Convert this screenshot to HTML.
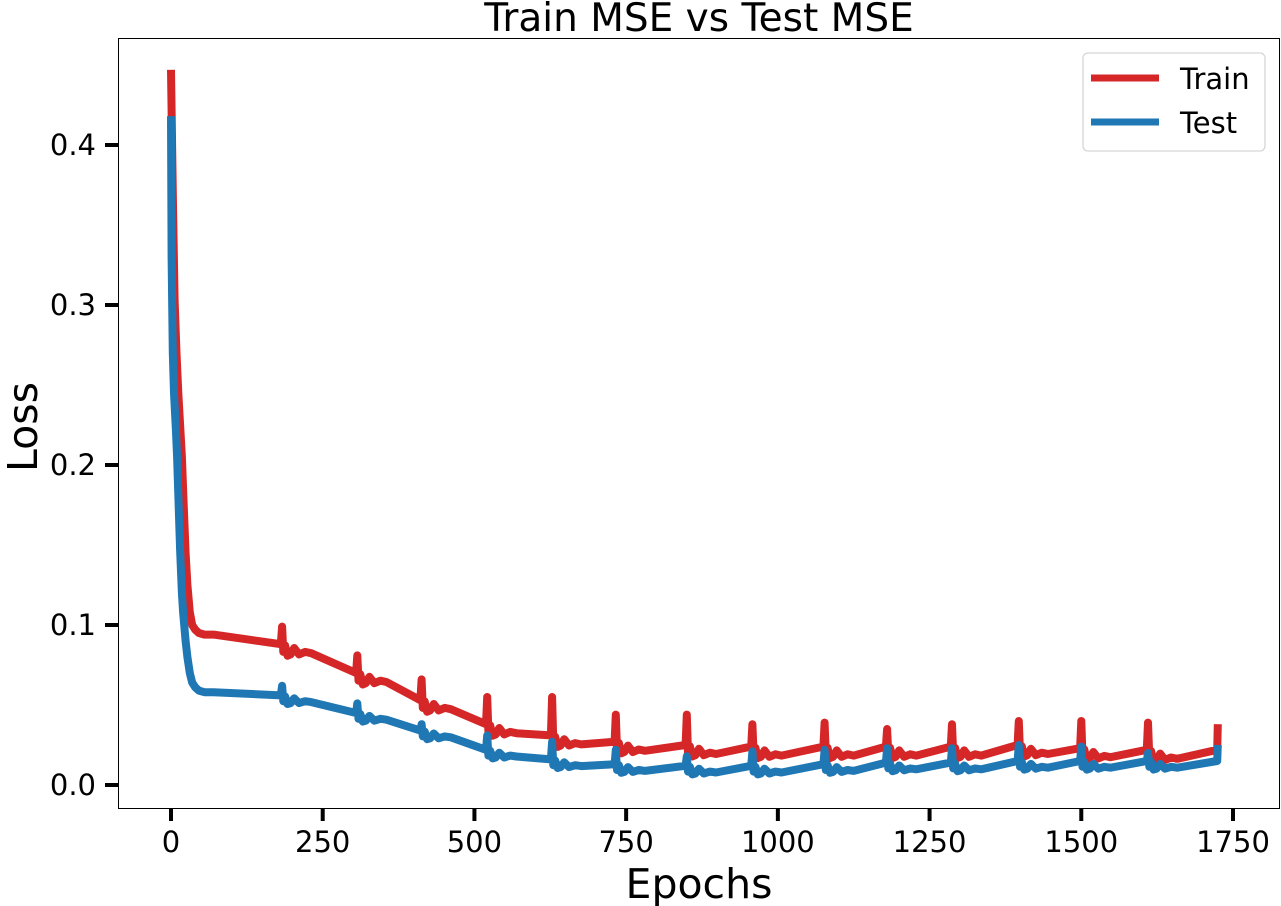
<!DOCTYPE html>
<html><head><meta charset="utf-8"><style>
html,body{margin:0;padding:0;background:#fff;width:1281px;height:906px;overflow:hidden}
svg text{font-family:"DejaVu Sans","Liberation Sans",sans-serif;fill:#000}
</style></head><body>
<svg id="chart" width="1281" height="906" viewBox="0 0 1281 906" xmlns="http://www.w3.org/2000/svg">
<text x="699" y="31" font-size="39" text-anchor="middle">Train MSE vs Test MSE</text>
<rect x="118.5" y="38.5" width="1161" height="770" fill="none" stroke="#000" stroke-width="1"/>
<g id="xticks"></g>
<g id="yticks"></g>
<g id="series"></g>
<text x="699" y="898" font-size="41" text-anchor="middle">Epochs</text>
<text transform="translate(37,427) rotate(-90)" font-size="41" text-anchor="middle">Loss</text>
<g>
<rect x="1083" y="53" width="182" height="98" rx="5" fill="#fff" stroke="#d6d6d6" stroke-width="1.3"/>
<line x1="1091" y1="78" x2="1159" y2="78" stroke="#d62728" stroke-width="7"/>
<text x="1180" y="89" font-size="29">Train</text>
<line x1="1091" y1="122" x2="1159" y2="122" stroke="#1f77b4" stroke-width="7"/>
<text x="1180" y="133" font-size="29">Test</text>
</g>
</svg>
<script>
const xTicks=[0,250,500,750,1000,1250,1500,1750];
const yTicks=[0.0,0.1,0.2,0.3,0.4];
const yTickLabels=["0.0","0.1","0.2","0.3","0.4"];
const trainEarlyEpochs=[0,3,6,9,12,15,18,21,24,27,31,35,40,46,55,70];
const trainEarly=[0.447,0.37,0.303,0.27,0.245,0.225,0.205,0.175,0.145,0.125,0.108,0.100,0.097,0.095,0.094,0.094];
const testEarlyEpochs=[0,1,3,5,8,10,13,15,18,20,24,27,31,35,40,46,55,70];
const testEarly=[0.418,0.33,0.27,0.245,0.222,0.205,0.17,0.147,0.12,0.108,0.09,0.08,0.07,0.064,0.061,0.059,0.058,0.058];
const spikeEpochs=[183,307,413,521,628,733,850,958,1077,1180,1287,1397,1500,1610];
const trainBase=[0.088,0.070,0.053,0.038,0.031,0.027,0.025,0.024,0.024,0.024,0.024,0.025,0.023,0.022];
const trainPeak=[0.099,0.081,0.066,0.055,0.055,0.044,0.044,0.038,0.039,0.035,0.038,0.040,0.040,0.039];
const testBase=[0.056,0.045,0.034,0.022,0.016,0.013,0.012,0.012,0.013,0.014,0.014,0.015,0.015,0.015];
const testPeak=[0.062,0.051,0.038,0.031,0.027,0.022,0.018,0.021,0.022,0.023,0.023,0.025,0.024,0.020];
const endEpoch=1725, trainEnd=[0.022,0.038], testEnd=[0.015,0.025];

const X=e=>171+e*(1062/1750);
const Y=v=>785-v*1600;
const NS="http://www.w3.org/2000/svg";
function mk(t,a){const el=document.createElementNS(NS,t);for(const k in a)el.setAttribute(k,a[k]);return el;}
const xg=document.getElementById('xticks'),yg=document.getElementById('yticks'),sg=document.getElementById('series');
xTicks.forEach(t=>{
 const l=mk('line',{x1:X(t),x2:X(t),y1:808,y2:821,stroke:'#000','stroke-width':4});
 
 
 xg.appendChild(l);
 const tx=mk('text',{x:X(t),y:852,'font-size':29,'text-anchor':'middle'});tx.textContent=t;
 
 
 xg.appendChild(tx);
});
yTicks.forEach((t,i)=>{
 const l=mk('line',{x1:105,x2:118,y1:Y(t),y2:Y(t),stroke:'#000','stroke-width':4});
 
 
 yg.appendChild(l);
 const tx=mk('text',{x:96,y:Y(t)+10,'font-size':29,'text-anchor':'end'});tx.textContent=yTickLabels[i];
 
 
 yg.appendChild(tx);
});
function build(ee,early,base,peak,end,dip){
 const pts=[];
 ee.forEach((e,i)=>pts.push([e,early[i]]));
 spikeEpochs.forEach((e,i)=>{
  const b=base[i];
  pts.push([e-2,b]);pts.push([e,peak[i]]);pts.push([e+2,b-dip*0.6]);
  pts.push([e+5,b-dip*0.1]);pts.push([e+9,b-dip*0.9]);pts.push([e+14,b-dip*0.8]);
  pts.push([e+20,b-dip*0.3]);pts.push([e+28,b-dip*0.8]);pts.push([e+38,b-dip*0.6]);pts.push([e+48,b-dip*0.7]);
 });
 pts.push([endEpoch-1,end[0]]);pts.push([endEpoch,end[1]]);
 return pts;
}
function draw(pts,color,name){
 const d=pts.map((p,i)=>(i?'L':'M')+X(p[0]).toFixed(1)+' '+Y(p[1]).toFixed(1)).join(' ');
 const p=mk('path',{d:d,fill:'none',stroke:color,'stroke-width':8,'stroke-linejoin':'round'});
 
 
 sg.appendChild(p);
}
draw(build(trainEarlyEpochs,trainEarly,trainBase,trainPeak,trainEnd,0.008),'#d62728','train-line');
draw(build(testEarlyEpochs,testEarly,testBase,testPeak,testEnd,0.006),'#1f77b4','test-line');
</script>
</body></html>
